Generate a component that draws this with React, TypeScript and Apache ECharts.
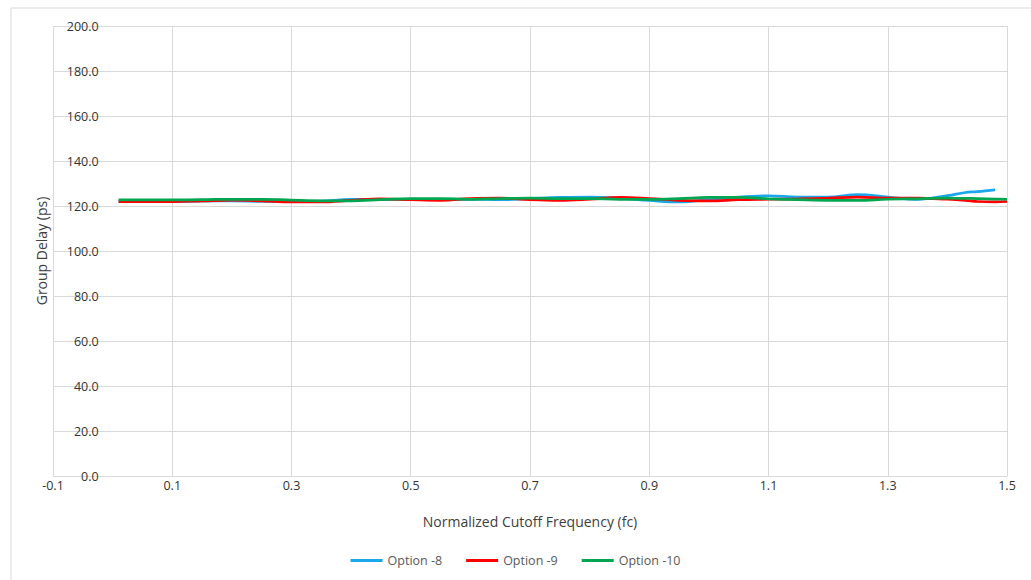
import React, { useEffect, useRef } from "react";
import * as echarts from "echarts";

const freq = [0.01, 0.05, 0.1, 0.15, 0.2, 0.25, 0.3, 0.35, 0.4, 0.45, 0.5, 0.55, 0.6, 0.65, 0.7, 0.75, 0.8, 0.85, 0.9, 0.95, 1.0, 1.05, 1.1, 1.15, 1.2, 1.25, 1.3, 1.35, 1.4, 1.43, 1.45, 1.48, 1.5];

const option8 = [122.0, 122.0, 122.0, 122.2, 122.3, 122.0, 121.9, 122.2, 122.9, 123.0, 123.0, 123.0, 123.0, 122.8, 123.3, 123.8, 124.0, 123.5, 122.5, 121.8, 122.8, 124.0, 124.5, 124.0, 124.0, 125.1, 124.0, 123.0, 124.6, 126.0, 126.4, 127.2, null];
const option9 = [122.0, 122.0, 122.0, 122.3, 122.6, 122.3, 121.8, 121.8, 122.5, 123.2, 122.8, 122.5, 123.3, 123.5, 122.8, 122.5, 123.0, 123.8, 123.3, 122.5, 122.3, 122.8, 123.0, 123.2, 123.5, 124.0, 123.5, 123.5, 123.0, 122.5, 122.0, 121.8, 122.0];
const option10 = [122.7, 122.7, 122.7, 122.8, 123.0, 123.0, 122.6, 122.3, 122.3, 122.8, 123.3, 123.3, 123.0, 123.3, 123.5, 123.3, 123.3, 123.0, 123.0, 123.3, 123.8, 123.8, 123.2, 122.8, 122.5, 122.5, 123.0, 123.2, 123.5, 123.4, 123.3, 123.1, 123.0];

const seriesNames = ["Option -8", "Option -9", "Option -10"];
const seriesColors = ["#1aa7ec", "#ff0000", "#00a650"];

const pairs = (ys: (number | null)[]) =>
  freq.map((x, i) => [x, ys[i]]).filter((p) => p[1] !== null);

export default function App() {
  const ref = useRef<HTMLDivElement>(null);
  useEffect(() => {
    if (!ref.current) return;
    const chart = echarts.init(ref.current, undefined, { renderer: "svg" });
    const font = "'Open Sans', 'Liberation Sans', sans-serif";
    const data = [option8, option9, option10];
    const gridLeft = 53;
    const gridRight = 24;
    const plotWidth = 1031 - gridLeft - gridRight;
    const xMin = -0.1;
    const xMax = 1.5;
    // y axis sits where x = 0
    const yAxisShift = ((0 - xMin) / (xMax - xMin)) * plotWidth;
    chart.setOption({
      animation: false,
      textStyle: { fontFamily: font },
      graphic: [
        {
          type: "rect",
          shape: { x: 11, y: 8, width: 1040, height: 600 },
          style: { fill: "none", stroke: "#d9d9d9", lineWidth: 1 },
          silent: true,
        },
      ],
      grid: {
        left: gridLeft,
        right: gridRight,
        top: 26,
        bottom: 104,
        containLabel: false,
        outerBoundsMode: "none",
      },
      legend: {
        bottom: 8,
        left: "center",
        itemWidth: 32,
        itemHeight: 3,
        itemGap: 24,
        icon: "rect",
        textStyle: { color: "#595959", fontSize: 12.5, fontFamily: font },
        data: seriesNames,
      },
      xAxis: {
        type: "value",
        min: xMin,
        max: xMax,
        interval: 0.2,
        name: "Normalized Cutoff Frequency (fc)",
        nameLocation: "middle",
        nameGap: 38,
        nameTextStyle: { color: "#404040", fontSize: 14, fontFamily: font },
        axisLine: { show: false },
        axisTick: { show: false },
        axisLabel: {
          color: "#333333",
          fontSize: 12.5,
          margin: 3,
          formatter: (v: number) => v.toFixed(1),
        },
        splitLine: { show: true, lineStyle: { color: "#d9d9d9", width: 1 } },
      },
      yAxis: {
        type: "value",
        min: 0,
        max: 200,
        interval: 20,
        offset: -yAxisShift,
        name: "Group Delay (ps)",
        nameLocation: "middle",
        nameGap: 64,
        nameTextStyle: { color: "#404040", fontSize: 14, fontFamily: font },
        axisLine: { show: false, onZero: false },
        axisTick: { show: false },
        axisLabel: {
          color: "#333333",
          fontSize: 12.5,
          margin: 14,
          formatter: (v: number) => v.toFixed(1),
        },
        splitLine: { show: true, lineStyle: { color: "#d9d9d9", width: 1 } },
      },
      series: seriesNames.map((name, i) => ({
        name,
        type: "line",
        data: pairs(data[i]),
        smooth: 0.4,
        showSymbol: false,
        symbol: "none",
        lineStyle: { color: seriesColors[i], width: 2.75 },
        itemStyle: { color: seriesColors[i] },
      })),
    });
    return () => chart.dispose();
  }, []);
  return (
    <div
      ref={ref}
      style={{ position: "absolute", left: 0, top: 0, width: 1031, height: 580, background: "#fff" }}
    />
  );
}
